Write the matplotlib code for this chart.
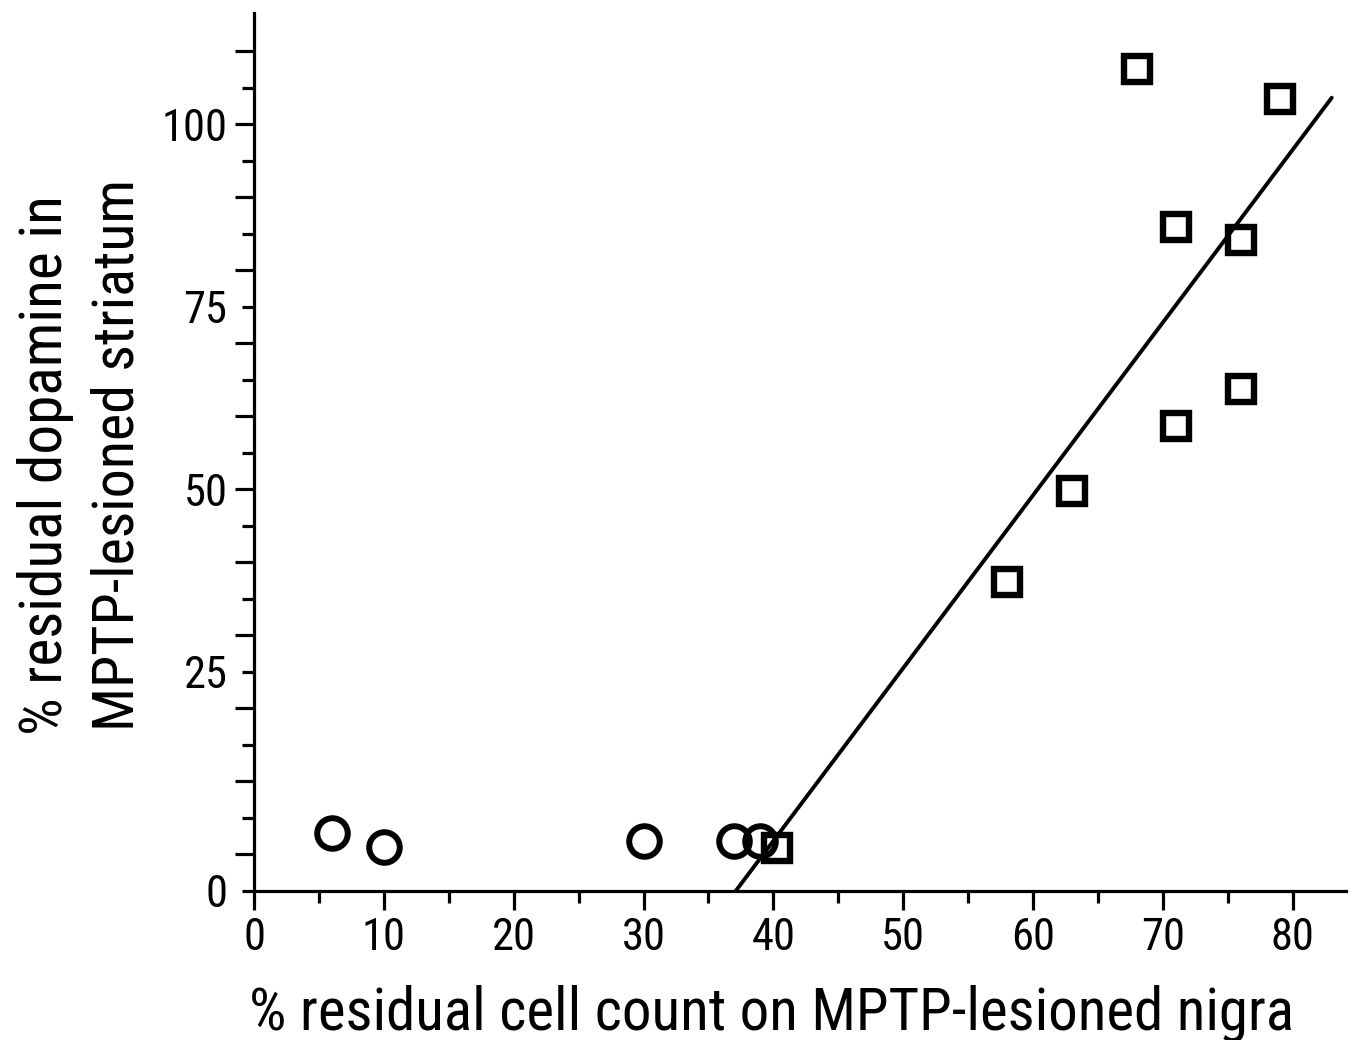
import matplotlib
matplotlib.use("Agg")
import matplotlib.pyplot as plt
import matplotlib.font_manager as fm
from matplotlib.ticker import FixedLocator, FixedFormatter

# Data
circle_x = [6, 10, 30, 37, 39]
circle_y = [2.9, 1.0, 1.8, 1.8, 1.8]
square_x = [40.3, 58, 63, 68, 71, 71, 76, 76, 79]
square_y = [0.9, 37.3, 49.8, 107.5, 85.9, 58.6, 84.1, 63.7, 103.4]
fit_x = [37.1, 83.0]
fit_y = [-5.0, 103.6]

x_major = [0, 10, 20, 30, 40, 50, 60, 70, 80]
x_minor = [5, 15, 25, 35, 45, 55, 65, 75]
y_ticks = [-5, 0, 5, 10, 15, 20, 25, 30, 35, 40, 45, 50, 55, 60, 65, 70, 75, 80,
           85, 90, 95, 100, 105, 110]
y_labels = {-5: "0", 25: "25", 50: "50", 75: "75", 100: "100"}

xlabel = "% residual cell count on MPTP-lesioned nigra"
ylabel_lines = ["% residual dopamine in", "MPTP-lesioned striatum"]

# find a narrow / condensed sans font if one is installed
narrow_path = None
prefs = ['liberation sans narrow', 'arial narrow', 'roboto condensed',
         'open sans condensed', 'dejavu sans condensed', 'noto sans condensed']
fonts = fm.fontManager.ttflist
for pref in prefs:
    for f in fonts:
        if f.name.lower() == pref and f.weight in (400, 'normal', 'regular') \
                and f.style == 'normal':
            narrow_path = f.fname
            break
    if narrow_path:
        break
if narrow_path is None:
    for f in fonts:
        if f.style == 'normal' and str(f.stretch) in ('condensed', 'semi-condensed') \
                and f.weight in (400, 'normal', 'regular') and 'sans' in f.name.lower():
            narrow_path = f.fname
            break

if narrow_path:
    def fp(size):
        return fm.FontProperties(fname=narrow_path, size=size)
    tick_size = 32
else:
    plt.rcParams['font.family'] = ['Liberation Sans', 'DejaVu Sans']
    def fp(size):
        return fm.FontProperties(family=['Liberation Sans', 'DejaVu Sans'], size=size)
    tick_size = 25

fig = plt.figure(figsize=(13.54, 10.40), dpi=100)
ax = fig.add_axes([0.1876, 0.1433, 0.9941 - 0.1876, 0.9875 - 0.1433])

ax.plot(fit_x, fit_y, color='black', lw=2.8, solid_capstyle='round', zorder=2)
ax.plot(circle_x, circle_y, linestyle='none', marker='o', ms=22, mfc='none',
        mec='black', mew=4.3, zorder=3)
ax.plot(square_x, square_y, linestyle='none', marker='s', ms=18.5, mfc='none',
        mec='black', mew=4.6, zorder=3)

ax.set_xlim(0, 84.1)
ax.set_ylim(-5, 115.2)

for s in ['top', 'right']:
    ax.spines[s].set_visible(False)
for s in ['left', 'bottom']:
    ax.spines[s].set_linewidth(2.3)

ax.xaxis.set_major_locator(FixedLocator(x_major))
ax.xaxis.set_minor_locator(FixedLocator(x_minor))
ax.xaxis.set_major_formatter(FixedFormatter([str(v) for v in x_major]))
ax.tick_params(axis='x', which='major', direction='out', length=13.5, width=2.3, pad=5)
ax.tick_params(axis='x', which='minor', direction='out', length=8.5, width=2.3)

ax.yaxis.set_major_locator(FixedLocator(y_ticks))
ax.yaxis.set_major_formatter(FixedFormatter([y_labels.get(v, "") for v in y_ticks]))
ax.tick_params(axis='y', which='major', direction='out', length=13.5, width=2.3, pad=5.5)

for lbl in ax.get_xticklabels() + ax.get_yticklabels():
    lbl.set_fontproperties(fp(tick_size))

for v, t in zip(y_ticks, ax.yaxis.get_major_ticks()):
    if v % 10 != 0:
        t.tick1line.set_markersize(8.5)

tx = fig.text(772 / 1354, 1 - 1029 / 1040, xlabel, ha='center', va='baseline',
              rotation_mode='anchor', fontproperties=fp(44))
ty1 = fig.text(62 / 1354, 1 - 465 / 1040, ylabel_lines[0], ha='center', va='baseline',
               rotation=90, rotation_mode='anchor', fontproperties=fp(44))
ty2 = fig.text(133 / 1354, 1 - 455 / 1040, ylabel_lines[1], ha='center', va='baseline',
               rotation=90, rotation_mode='anchor', fontproperties=fp(44))

# fit label sizes to the lengths they occupy in the figure
fig.canvas.draw()
r = fig.canvas.get_renderer()
for t, target, horiz in [(tx, 1045, True), (ty1, 540, False), (ty2, 552, False)]:
    bb = t.get_window_extent(r)
    cur = bb.width if horiz else bb.height
    if cur > target:
        t.set_fontsize(44 * target / cur)

fig.savefig("out.png", dpi=100)
